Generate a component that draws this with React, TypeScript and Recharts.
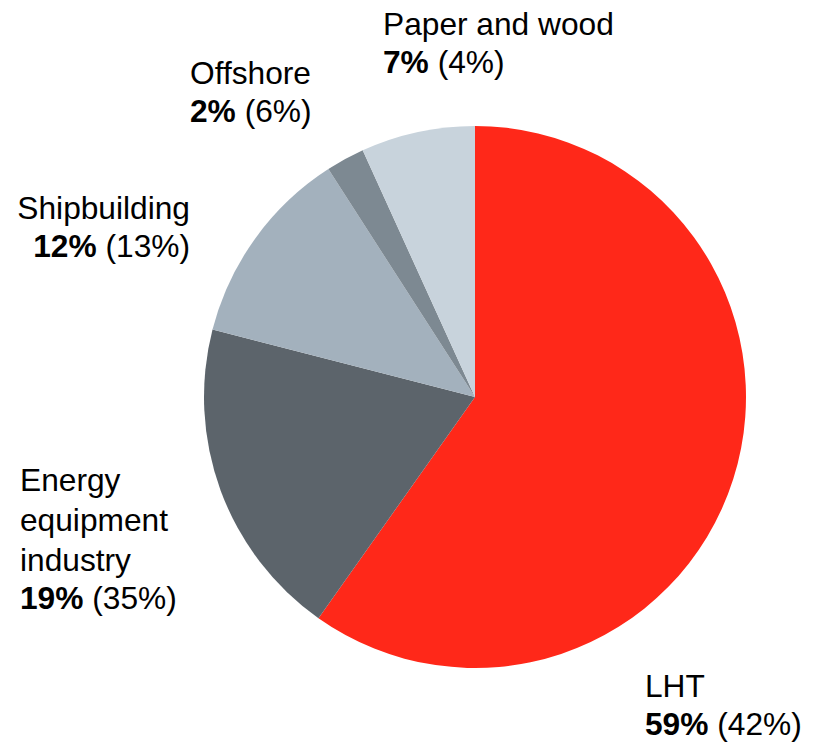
import React from 'react'
import { PieChart, Pie, Cell } from 'recharts'

// ── Data ──────────────────────────────────────────────────────────────────────

const segments = ['LHT', 'Energy equipment industry', 'Shipbuilding', 'Offshore', 'Paper and wood']
const shares = [59.8, 19.2, 11.9, 2.3, 6.8]
const shareLabels = ['59%', '19%', '12%', '2%', '7%']
const priorLabels = ['(42%)', '(35%)', '(13%)', '(6%)', '(4%)']
const nameLines = [['LHT'], ['Energy', 'equipment', 'industry'], ['Shipbuilding'], ['Offshore'], ['Paper and wood']]

const COLORS = ['#FF2819', '#5C646B', '#A3B1BD', '#7D8992', '#C8D3DC']

// label anchor: x, first baseline, text-anchor
const LABEL_POS: { x: number; y: number; anchor: 'start' | 'end' }[] = [
  { x: 645, y: 697, anchor: 'start' },
  { x: 20, y: 491, anchor: 'start' },
  { x: 190, y: 219, anchor: 'end' },
  { x: 190, y: 84, anchor: 'start' },
  { x: 383, y: 35, anchor: 'start' },
]

const LINE_H = 39
const FONT = '"Liberation Sans", Arial, sans-serif'

const data = segments.map((name, i) => ({ name, value: shares[i] }))

function renderLabel(props: any) {
  const i = props.index as number
  const pos = LABEL_POS[i]
  const lines = nameLines[i]
  return (
    <text key={`lbl-${i}`} x={pos.x} y={pos.y} textAnchor={pos.anchor}
      fontFamily={FONT} fontSize={31.7} fill="#000">
      {lines.map((l, j) => (
        <tspan key={j} x={pos.x} y={pos.y + j * (LINE_H + 1)}>{l}</tspan>
      ))}
      <tspan x={pos.x} y={pos.y + (lines.length - 1) * (LINE_H + 1) + (LINE_H - 1)} fontWeight="bold">
        {shareLabels[i]}
      </tspan>
      <tspan> {priorLabels[i]}</tspan>
    </text>
  )
}

export default function App() {
  return (
    <div style={{ position: 'absolute', left: 0, top: 0, width: 814, height: 743, background: '#fff' }}>
      <PieChart width={814} height={743} margin={{ top: 0, right: 0, bottom: 0, left: 0 }}>
        <Pie
          data={data}
          dataKey="value"
          nameKey="name"
          cx={475}
          cy={397}
          outerRadius={271}
          startAngle={90}
          endAngle={-270}
          stroke="none"
          label={renderLabel}
          labelLine={false}
          isAnimationActive={false}
        >
          {data.map((d, i) => (
            <Cell key={d.name} fill={COLORS[i]} />
          ))}
        </Pie>
      </PieChart>
    </div>
  )
}
